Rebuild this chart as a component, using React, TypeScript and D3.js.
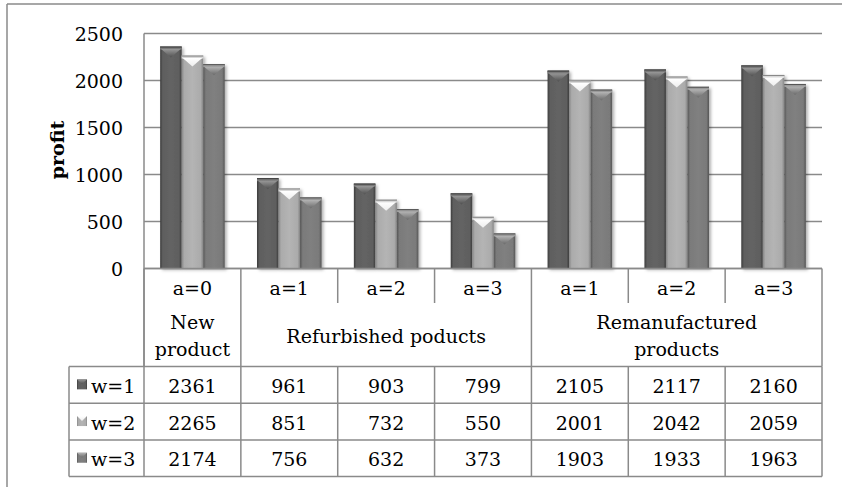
import React from "react";
import * as d3 from "d3";

const categories = ["a=0", "a=1", "a=2", "a=3", "a=1", "a=2", "a=3"];
const groupLabels = [["New", "product"], ["Refurbished poducts"], ["Remanufactured", "products"]];
const groupSpans = [1, 3, 3];
const seriesNames = ["w=1", "w=2", "w=3"];
const w1 = [2361, 961, 903, 799, 2105, 2117, 2160];
const w2 = [2265, 851, 732, 550, 2001, 2042, 2059];
const w3 = [2174, 756, 632, 373, 1903, 1933, 1963];
const yTicks = [0, 500, 1000, 1500, 2000, 2500];
const yLabel = "profit";

const series = [w1, w2, w3];

const W = 842;
const H = 487;
const plotL = 144;
const plotR = 822;
const plotT = 33.5;
const plotB = 268.5;
const catRowB = 303;
const groupRowB = 366.5;
const rowH = 36.7;
const legendL = 69;
const frameL = 7;
const frameT = 4;

const FONT = "DejaVu Serif";
const FS = 19;
const LINE = "#8a8a8a";
const TS: React.CSSProperties = { fontFamily: FONT, fontSize: FS };

const pal = [
  { edge: "#3c3c3c", mid: "#646464", hi: "#5e5e5e", capTop: "#989898", capBot: "#505050", band: "#7a7a7a" },
  { edge: "#858585", mid: "#b4b4b4", hi: "#ababab", capTop: "#ffffff", capBot: "#eeeeee", band: "#d8d8d8" },
  { edge: "#555555", mid: "#808080", hi: "#7a7a7a", capTop: "#b4b4b4", capBot: "#6a6a6a", band: "#9a9a9a" },
];

export default function App() {
  const x = d3.scaleBand<number>().domain(d3.range(categories.length)).range([plotL, plotR]).padding(0);
  const cw = x.bandwidth();
  const barW = cw / 4.5;
  const xs = d3
    .scaleBand<number>()
    .domain(d3.range(series.length))
    .range([barW * 0.75, cw - barW * 0.75])
    .padding(0);
  const y = d3.scaleLinear().domain([0, 2500]).range([plotB, plotT]);

  const rowsTop = groupRowB;
  const rowYs = seriesNames.map((_, i) => rowsTop + i * rowH);
  const tableB = rowsTop + seriesNames.length * rowH;

  const groupStarts: number[] = [];
  let acc = 0;
  groupSpans.forEach((s) => {
    groupStarts.push(acc);
    acc += s;
  });

  return (
    <svg width={W} height={H} style={{ position: "absolute", left: 0, top: 0, background: "#fff" }} fontFamily={FONT}>
      <defs>
        {pal.map((p, i) => (
          <linearGradient key={"g" + i} id={"body" + i} x1="0" x2="1" y1="0" y2="0">
            <stop offset="0" stopColor={p.edge} />
            <stop offset="0.12" stopColor={p.hi} />
            <stop offset="0.5" stopColor={p.mid} />
            <stop offset="0.88" stopColor={p.hi} />
            <stop offset="1" stopColor={p.edge} />
          </linearGradient>
        ))}
        {pal.map((p, i) => (
          <linearGradient key={"c" + i} id={"cap" + i} x1="0" x2="0" y1="0" y2="1">
            <stop offset="0" stopColor={p.capTop} />
            <stop offset="1" stopColor={p.capBot} />
          </linearGradient>
        ))}
        <filter id="shadow" x="-20%" y="-5%" width="150%" height="115%">
          <feDropShadow dx="2" dy="1.5" stdDeviation="1.6" floodColor="#000" floodOpacity="0.3" />
        </filter>
      </defs>

      <line x1={frameL} x2={W} y1={frameT} y2={frameT} stroke={LINE} strokeWidth={1.5} />
      <line x1={frameL} x2={frameL} y1={frameT} y2={H} stroke={LINE} strokeWidth={1.5} />

      {yTicks.map((t) => (
        <line key={"gl" + t} x1={plotL} x2={plotR} y1={y(t)} y2={y(t)} stroke={LINE} strokeWidth={1.5} />
      ))}
      {yTicks.map((t) => (
        <text key={"yt" + t} x={123} y={y(t)} textAnchor="end" dominantBaseline="central" style={TS} fill="#000">
          {t}
        </text>
      ))}
      <text
        transform={`translate(57,150) rotate(-90)`}
        textAnchor="middle"
        dominantBaseline="central"
        style={{ ...TS, fontWeight: "bold" }}
        fill="#000"
      >
        {yLabel}
      </text>

      {categories.map((_, ci) =>
        series.map((s, si) => {
          const bx = (x(ci) as number) + (xs(si) as number);
          const bw = xs.bandwidth();
          const by = y(s[ci]);
          const bh = plotB - by;
          const capD = Math.min(11, bh);
          return (
            <g key={`b${ci}-${si}`}>
              <rect x={bx} y={by} width={bw} height={bh} fill={`url(#body${si})`} filter="url(#shadow)" />
              <rect x={bx} y={by} width={bw} height={3} fill={pal[si].band} />
              <path
                d={`M${bx + 1},${by + 2.5} L${bx + bw - 1},${by + 2.5} L${bx + bw / 2},${by + capD} Z`}
                fill={`url(#cap${si})`}
              />
              <line x1={bx} x2={bx + bw} y1={by + 0.5} y2={by + 0.5} stroke={pal[si].edge} strokeWidth={1} />
            </g>
          );
        })
      )}

      <line x1={plotL} x2={plotL} y1={plotT} y2={tableB} stroke={LINE} strokeWidth={1.5} />
      <line x1={plotL} x2={plotR} y1={plotB} y2={plotB} stroke={LINE} strokeWidth={1.5} />

      {d3.range(categories.length + 1).map((i) => {
        const xx = i < categories.length ? (x(i) as number) : plotR;
        return <line key={"cs" + i} x1={xx} x2={xx} y1={plotB} y2={catRowB} stroke={LINE} strokeWidth={1.5} />;
      })}
      {categories.map((c, i) => (
        <text
          key={"cl" + i}
          x={(x(i) as number) + cw / 2}
          y={288}
          textAnchor="middle"
          dominantBaseline="central"
          style={TS}
          fill="#000"
        >
          {c}
        </text>
      ))}

      {groupStarts.concat([categories.length]).map((gs, i) => {
        const xx = gs < categories.length ? (x(gs) as number) : plotR;
        return <line key={"gs" + i} x1={xx} x2={xx} y1={catRowB} y2={groupRowB} stroke={LINE} strokeWidth={1.5} />;
      })}
      {groupLabels.map((lines, gi) => {
        const x0 = x(groupStarts[gi]) as number;
        const cx = x0 + (groupSpans[gi] * cw) / 2;
        const mid = (catRowB + groupRowB) / 2 + 1;
        return lines.map((ln, li) => (
          <text
            key={`gl${gi}-${li}`}
            x={cx}
            y={mid + (li - (lines.length - 1) / 2) * 27}
            textAnchor="middle"
            dominantBaseline="central"
            style={TS}
            fill="#000"
          >
            {ln}
          </text>
        ));
      })}

      {d3.range(seriesNames.length + 1).map((i) => {
        const yy = rowsTop + i * rowH;
        return <line key={"hr" + i} x1={legendL} x2={plotR} y1={yy} y2={yy} stroke={LINE} strokeWidth={1.5} />;
      })}
      <line x1={legendL} x2={legendL} y1={rowsTop} y2={tableB} stroke={LINE} strokeWidth={1.5} />
      {d3.range(1, categories.length + 1).map((i) => {
        const xx = i < categories.length ? (x(i) as number) : plotR;
        return <line key={"vr" + i} x1={xx} x2={xx} y1={rowsTop} y2={tableB} stroke={LINE} strokeWidth={1.5} />;
      })}
      {seriesNames.map((nm, si) => (
        <g key={"row" + si}>
          <rect x={77} y={rowYs[si] + rowH / 2 - 5.5} width={10} height={10} fill={`url(#body${si})`} />
          <path
            d={`M77,${rowYs[si] + rowH / 2 - 5.5} L87,${rowYs[si] + rowH / 2 - 5.5} L82,${rowYs[si] + rowH / 2 - 0.5} Z`}
            fill={`url(#cap${si})`}
          />
          <text x={91} y={rowYs[si] + rowH / 2 + 1} dominantBaseline="central" style={TS} fill="#000">
            {nm}
          </text>
          {series[si].map((v, ci) => (
            <text
              key={"v" + ci}
              x={(x(ci) as number) + cw / 2}
              y={rowYs[si] + rowH / 2 + 1}
              textAnchor="middle"
              dominantBaseline="central"
              style={TS}
              fill="#000"
            >
              {v}
            </text>
          ))}
        </g>
      ))}
    </svg>
  );
}
